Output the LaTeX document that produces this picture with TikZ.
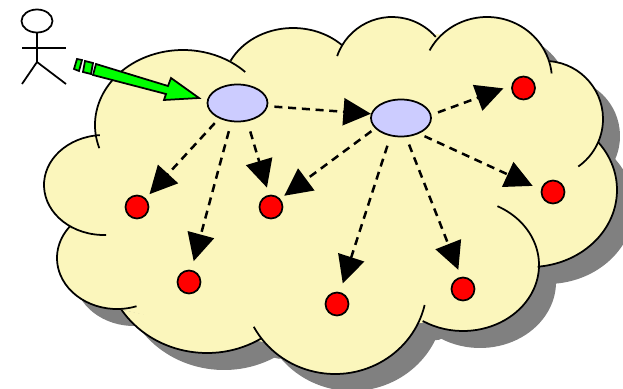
\documentclass[tikz,border=0pt]{standalone}
\usetikzlibrary{arrows.meta,shapes.geometric}
\definecolor{cloudyellow}{HTML}{FBF6BC}
\definecolor{peerblue}{HTML}{CCCCFF}
\definecolor{cloudgrey}{HTML}{808080}
\tikzset{
    outline/.style={line width=0.035cm,line join=miter},
    peer/.style={draw,outline,ellipse,fill=peerblue,minimum width=1.2cm,minimum height=0.74cm,inner sep=0pt},
    dot/.style={draw,outline,circle,fill=red,minimum size=0.46cm,inner sep=0pt},
    link/.style={line width=0.05cm,dash pattern=on 0.16cm off 0.115cm,-{Triangle[length=0.55cm,width=0.54cm]}},
    stick/.style={line width=0.035cm}
}
% style, centre, radii, start and end angle
\newcommand{\lobearc}[7]{
    \path[#1] (#2,#3) ++(#6:#4 and #5) arc[start angle=#6,end angle=#7,x radius=#4,y radius=#5];
}
\newcommand{\cloudlobes}[1]{
    \lobearc{#1}{183}{125}{88}{75}{162}{315}
    \lobearc{#1}{293}{88}{70}{60}{207}{314}
    \lobearc{#1}{392}{75}{58}{58}{199}{319}
    \lobearc{#1}{487}{80}{65}{63}{208}{354}
    \lobearc{#1}{545}{119}{58}{58}{275}{415}
    \lobearc{#1}{530}{190}{87}{77}{-38}{85}
    \lobearc{#1}{463}{265}{76}{66}{-63}{122}
    \lobearc{#1}{335}{285}{92}{89}{13}{152}
    \lobearc{#1}{207}{258}{102}{95}{58}{147}
    \lobearc{#1}{117}{258}{60}{51}{71}{218}
    \lobearc{#1}{104}{185}{60}{50}{88}{266}
}
\newcommand{\cloudcore}[2]{
    \path[fill=#1,draw=#1,line width=0.03cm,#2] (100,135) -- (230,60) -- (342,45) -- (438,35) -- (550,62) -- (598,143) -- (538,266) -- (422,322) -- (262,341) -- (122,309) -- (72,228) -- cycle;
    \cloudlobes{fill=#1,#2}
}
\begin{document}
\begin{tikzpicture}[x=0.02cm,y=-0.02cm]
    \useasboundingbox (0,0) rectangle (623,389);

    % cloud with its shadow
    \cloudcore{cloudgrey}{shift={(17,17)}}
    \cloudcore{cloudyellow}{}
    \cloudlobes{draw,outline}

    % user
    \node[draw,stick,ellipse,minimum width=0.62cm,minimum height=0.46cm,inner sep=0pt] (head) at (37,21) {};
    \coordinate (hip) at (37,62);
    \coordinate (handl) at (22,48);
    \coordinate (handr) at (66,48);
    \coordinate (footl) at (22,84);
    \coordinate (footr) at (66,84);
    \draw[stick] (head) -- (hip);
    \draw[stick] (handl) -- (handr);
    \draw[stick] (footl) -- (hip) -- (footr);

    % entry arrow
    \draw[outline,fill=green] (77,59) -- (82,60) -- (79,71) -- (74,69) -- cycle;
    \draw[outline,fill=green] (85,61) -- (93,63) -- (91,74) -- (83,72) -- cycle;
    \draw[outline,fill=green] (96,64) -- (168,86) -- (171,78) -- (199,98) -- (164,100) -- (166,94) -- (93,75) -- cycle;

    % peers
    \node[peer] (first) at (237.5,103) {};
    \node[peer] (second) at (401,118) {};
    \node[dot] (d1) at (137,207) {};
    \node[dot] (d2) at (189,282) {};
    \node[dot] (d3) at (271,207) {};
    \node[dot] (d4) at (337,304) {};
    \node[dot] (d5) at (463,289) {};
    \node[dot] (d6) at (553,192) {};
    \node[dot] (d7) at (523.5,88) {};

    % lookups
    \draw[link,shorten <=0.125cm,shorten >=0.11cm] (first.220) -- (d1.45);
    \draw[link,shorten <=0.19cm,shorten >=0.18cm] (first.252) -- (d2.79);
    \draw[link,shorten <=0.21cm,shorten >=0.15cm] (first.298) -- (d3.99);
    \draw[link,shorten <=0.13cm,shorten >=0pt] (first.-6) -- (second.172);
    \draw[link,shorten <=0.09cm,shorten >=0.1cm] (second.202) -- (d3.42);
    \draw[link,shorten <=0.2cm,shorten >=0.18cm] (second.240) -- (d4.76);
    \draw[link,shorten <=0.16cm,shorten >=0.15cm] (second.285) -- (d5.99);
    \draw[link,shorten <=0.12cm,shorten >=0.18cm] (second.319) -- (d6.169);
    \draw[link,shorten <=0.14cm,shorten >=0.17cm] (second.6) -- (d7.168);
\end{tikzpicture}
\end{document}
